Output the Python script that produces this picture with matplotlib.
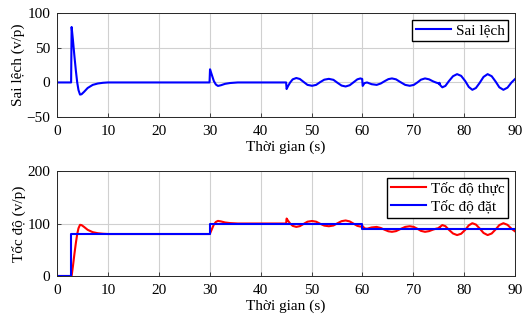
import numpy as np
import matplotlib
matplotlib.use("Agg")
import matplotlib.pyplot as plt

plt.rcParams['font.family'] = ['Liberation Serif', 'DejaVu Serif']
plt.rcParams['font.size'] = 11

# time points (s)
t = [0, 2.75, 2.85, 3.1, 3.4, 3.7, 3.95, 4.2, 4.5, 4.8, 5.3, 6.0, 7.0, 8.0, 9.0, 10.0,
     29.95, 30.05, 30.4, 30.8, 31.2, 31.6, 32.2, 33.0, 34.0, 35.5,
     45.0, 45.1, 45.4, 45.8, 46.3, 47.0, 47.7, 48.4, 49.2, 50.1, 50.9, 51.7, 52.5,
     53.4, 54.3, 55.1, 55.9, 56.7, 57.5, 58.3, 59.0, 59.6, 59.95,
     60.05, 60.4, 60.9, 61.8, 62.8, 63.6, 64.4, 65.1, 65.8, 66.6, 67.4, 68.4, 69.3,
     70.1, 70.8, 71.5, 72.3, 73.1, 73.9, 74.6, 74.9, 75.05, 75.15, 75.3, 75.7, 76.3,
     77.0, 77.8, 78.6, 79.4, 80.2, 80.9, 81.6, 82.3, 83.0, 83.8, 84.6, 85.4, 86.2,
     86.9, 87.7, 88.5, 89.3, 90.0]

# error (v/p)
sai_lech = [0, 0, 80, 62, 38, 16, 0, -11, -17.5, -17, -13.5, -8, -3.5, -1.5, -0.5, 0,
            0, 19, 11, 2, -3, -5, -4, -2, -0.8, 0,
            0, -9.5, -5, 0, 4.5, 6.4, 5, 1, -3.5, -4.8, -3.5, 0.5, 4,
            5.2, 3.8, -0.5, -4.5, -5.8, -4, 0.5, 4.5, 5.8, 5,
            -5, -1, 0, -2.5, -3.5, -1.5, 2, 4.8, 5.8, 4.5, 0.8, -3.5, -4.8,
            -3.5, 0, 4, 5.8, 4.5, 1.5, -0.5, -1, -2.5, -0.5, -4, -7, -5,
            2, 9, 12, 9.5, 2, -6.5, -10.6, -8, -1, 8, 12, 9, 1,
            -7, -10.6, -7.5, 0, 5]

# actual speed (v/p)
toc_do_thuc = [0, 0, 0, 18, 42, 64, 80, 91, 97.5, 97, 93.5, 88, 83.5, 81.5, 80.5, 80,
               80, 81, 89, 98, 103, 105, 104, 102, 100.8, 100,
               100, 109.5, 105, 100, 95.5, 93.6, 95, 99, 103.5, 104.8, 103.5, 99.5, 96,
               94.8, 96.2, 100.5, 104.5, 105.8, 104, 99.5, 95.5, 94.2, 95,
               95, 91, 90, 92.5, 93.5, 91.5, 88, 85.2, 84.2, 85.5, 89.2, 93.5, 94.8,
               93.5, 90, 86, 84.2, 85.5, 88.5, 90.5, 91, 92.5, 90.5, 94, 97, 95,
               88, 81, 78, 80.5, 88, 96.5, 100.6, 98, 91, 82, 78, 81, 89,
               97, 100.6, 97.5, 90, 85]

# reference speed (v/p), step changes
t_dat = [0, 2.75, 29.95, 60.0, 90]
toc_do_dat = [0, 80, 100, 90, 90]

fig = plt.figure(figsize=(5.24, 3.2), dpi=100)
ax1 = fig.add_axes([0.109, 0.634, 0.874, 0.325])
ax2 = fig.add_axes([0.109, 0.1375, 0.874, 0.328])

ax1.plot(t, sai_lech, color='#0000ff', lw=1.5, label='Sai lệch')
ax1.set_xlim(0, 90)
ax1.set_ylim(-50, 100)
ax1.set_yticks([-50, 0, 50, 100])
ax1.set_ylabel('Sai lệch (v/p)', labelpad=1)
ax1.set_xlabel('Thời gian (s)', labelpad=1.5)
ax1.legend(loc='upper right', fancybox=False, edgecolor='black', framealpha=1,
           handlelength=2.3, borderpad=0.25, handletextpad=0.3, borderaxespad=0.45,
           fontsize=11)

ax2.plot(t, toc_do_thuc, color='#ff0000', lw=1.5, label='Tốc độ thực')
ax2.step(t_dat, toc_do_dat, where='post', color='#0000ff', lw=1.5, label='Tốc độ đặt')
ax2.set_xlim(0, 90)
ax2.set_ylim(0, 200)
ax2.set_yticks([0, 100, 200])
ax2.set_ylabel('Tốc độ (v/p)', labelpad=1)
ax2.set_xlabel('Thời gian (s)', labelpad=1.5)
ax2.legend(loc='upper right', fancybox=False, edgecolor='black', framealpha=1,
           handlelength=2.3, borderpad=0.25, handletextpad=0.3, labelspacing=0.3,
           borderaxespad=0.45, fontsize=11)

for ax in (ax1, ax2):
    ax.set_xticks(range(0, 91, 10))
    ax.grid(True, color='#d0d0d0', lw=0.8)
    ax.set_axisbelow(True)
    ax.tick_params(axis='x', direction='in', length=3, width=0.6, color='#262626',
                   labelsize=11, pad=6)
    ax.tick_params(axis='y', direction='in', length=3, width=0.6, color='#262626',
                   labelsize=11, pad=5)
    for s in ax.spines.values():
        s.set_linewidth(0.7)
        s.set_color('#262626')

fig.savefig('out.png', dpi=100)
